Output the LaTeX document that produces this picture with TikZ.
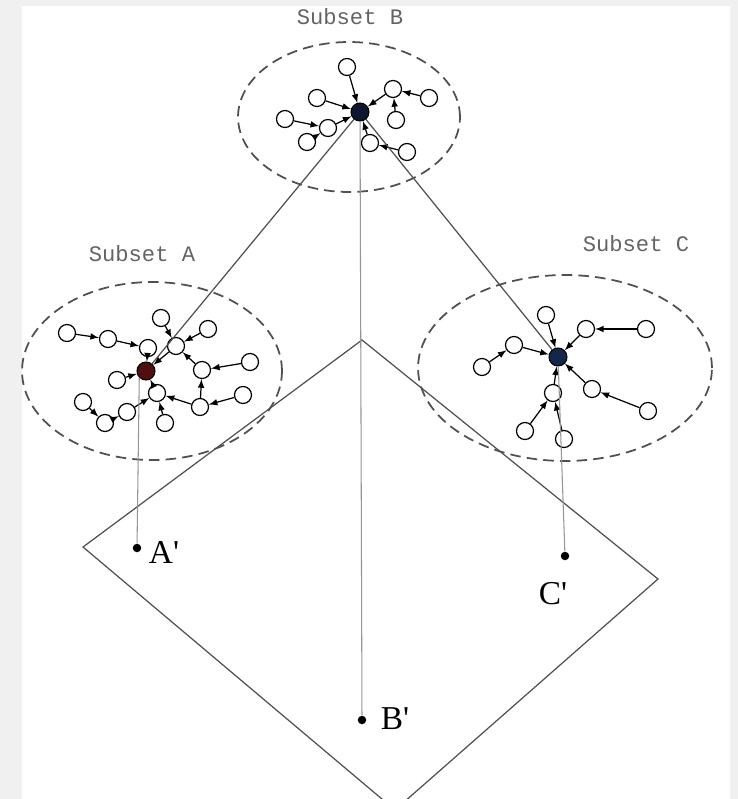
\documentclass[tikz,border=0pt]{standalone}
\usepackage{fontspec}
\setmainfont{Liberation Serif}
\setmonofont{Liberation Mono}
\usetikzlibrary{arrows}
\definecolor{PanelGray}{RGB}{240,240,240}
\definecolor{LineGray}{RGB}{80,80,80}
\definecolor{DropGray}{RGB}{150,150,150}
\definecolor{LabelGray}{RGB}{100,100,100}
\definecolor{HubRed}{RGB}{80,14,14}
\definecolor{HubBlue}{RGB}{14,22,48}
\definecolor{HubNavy}{RGB}{20,38,76}

\begin{document}
\begin{tikzpicture}[x=0.02cm,y=-0.02cm]
		\tikzstyle{every node}=[inner sep=0pt];
		\tikzstyle{leaf}=[draw, circle, minimum size=0.34cm, line width=0.7pt];
		\tikzstyle{hub}=[draw, circle, minimum size=0.36cm, line width=0.6pt];
		\tikzstyle{proj}=[fill=black, circle, minimum size=0.17cm];
		\tikzstyle{link}=[->, >=latex, line width=0.7pt];
		\tikzstyle{subset}=[dashed, dash pattern=on 6pt off 3.5pt, LineGray, line width=1pt];
		\tikzstyle{title}=[LabelGray, font=\ttfamily\fontsize{12.6}{13}\selectfont];
		\tikzstyle{pointlabel}=[font=\fontsize{19}{19}\selectfont];
		% page and panel
		\useasboundingbox (0,0) rectangle (738,799);
		\clip (0,0) rectangle (738,799);
		\fill[PanelGray] (0,0) rectangle (738,799);
		\fill[white] (22,6) rectangle (730,799);
		% projection plane
		\draw[LineGray, line width=0.7pt] (362,340) -- (658,579) -- (395,810) -- (83,547) -- cycle;
		% subset outlines
		\draw[subset] (349,117) ellipse (2.22cm and 1.5cm);
		\draw[subset] (152,371) ellipse (2.6cm and 1.78cm);
		\draw[subset] (565,368) ellipse (2.94cm and 1.86cm);
		\node[title] (tB) at (350,17) {Subset B};
		\node[title] (tA) at (142,254) {Subset A};
		\node[title] (tC) at (636,244) {Subset C};
		% subset B
		\node [hub, fill=HubBlue] (hubB) at (360,112) {};
		\node [leaf] (b1) at (347,67) {};
		\node [leaf] (b2) at (317,98) {};
		\node [leaf] (b3) at (393,89) {};
		\node [leaf] (b4) at (429,98) {};
		\node [leaf] (b5) at (396,120) {};
		\node [leaf] (b6) at (285,119) {};
		\node [leaf] (b7) at (328,128) {};
		\node [leaf] (b8) at (307,142) {};
		\node [leaf] (b9) at (370,143) {};
		\node [leaf] (b10) at (407,152) {};
		% subset A
		\node [hub, fill=HubRed] (hubA) at (146,371) {};
		\node [leaf] (a1) at (67,333) {};
		\node [leaf] (a2) at (108,339) {};
		\node [leaf] (a3) at (148,348) {};
		\node [leaf] (a4) at (161,318) {};
		\node [leaf] (a5) at (176,346) {};
		\node [leaf] (a6) at (208,329) {};
		\node [leaf] (a7) at (117,380) {};
		\node [leaf] (a8) at (202,370) {};
		\node [leaf] (a9) at (250,362) {};
		\node [leaf] (a10) at (157,393) {};
		\node [leaf] (a11) at (200,407) {};
		\node [leaf] (a12) at (243,395) {};
		\node [leaf] (a13) at (165,423) {};
		\node [leaf] (a14) at (127,412) {};
		\node [leaf] (a15) at (105,423) {};
		\node [leaf] (a16) at (83,402) {};
		% subset C
		\node [hub, fill=HubNavy] (hubC) at (558,357) {};
		\node [leaf] (c1) at (546,315) {};
		\node [leaf] (c2) at (586,329) {};
		\node [leaf] (c3) at (646,329) {};
		\node [leaf] (c4) at (514,345) {};
		\node [leaf] (c5) at (482,367) {};
		\node [leaf] (c6) at (592,389) {};
		\node [leaf] (c7) at (648,411) {};
		\node [leaf] (c8) at (553,393) {};
		\node [leaf] (c9) at (525,431) {};
		\node [leaf] (c10) at (564,439) {};
		% projected points
		\node [proj] (pA) at (137,548) {};
		\node [proj] (pB) at (362,720) {};
		\node [proj] (pC) at (565,556) {};
		\node [pointlabel] (lA) at (164,552) {A\textquotesingle};
		\node [pointlabel] (lB) at (395,719) {B\textquotesingle};
		\node [pointlabel] (lC) at (553,594) {C\textquotesingle};
		% links inside B
		\draw[link] (b1) -- (hubB);
		\draw[link] (b2) -- (hubB);
		\draw[link] (b3) -- (hubB);
		\draw[link] (b4) -- (b3);
		\draw[link] (b5) -- (b3);
		\draw[link] (b6) -- (b7);
		\draw[link] (b8) -- (b7);
		\draw[link] (b7) -- (hubB);
		\draw[link] (b10) -- (b9);
		\draw[link] (b9) -- (hubB);
		% links inside A
		\draw[link] (a1) -- (a2);
		\draw[link] (a2) -- (a3);
		\draw[link] (a3) -- (hubA);
		\draw[link] (a4) -- (a5);
		\draw[link] (a6) -- (a5);
		\draw[link] (a5) -- (hubA);
		\draw[link] (a7) -- (hubA);
		\draw[link] (a9) -- (a8);
		\draw[link] (a8) -- (a5);
		\draw[link] (a11) -- (a8);
		\draw[link] (a12) -- (a11);
		\draw[link] (a11) -- (a10);
		\draw[link] (a13) -- (a10);
		\draw[link] (a14) -- (a10);
		\draw[link] (a15) -- (a14);
		\draw[link] (a16) -- (a15);
		\draw[link] (a10) -- (hubA);
		% links inside C
		\draw[link] (c1) -- (hubC);
		\draw[link] (c3) -- (c2);
		\draw[link] (c2) -- (hubC);
		\draw[link] (c5) -- (c4);
		\draw[link] (c4) -- (hubC);
		\draw[link] (c7) -- (c6);
		\draw[link] (c6) -- (hubC);
		\draw[link] (c9) -- (c8);
		\draw[link] (c10) -- (c8);
		\draw[link] (c8) -- (hubC);
		% hub to hub
		\draw[LineGray, line width=0.7pt] (hubB) -- (hubA);
		\draw[LineGray, line width=0.7pt] (hubB) -- (hubC);
		% drops onto the plane
		\draw[DropGray, line width=0.6pt] (hubA.south west) -- (pA);
		\draw[DropGray, line width=0.6pt] (hubB) -- (pB);
		\draw[DropGray, line width=0.6pt] (hubC) -- (pC);
	\end{tikzpicture}
\end{document}
